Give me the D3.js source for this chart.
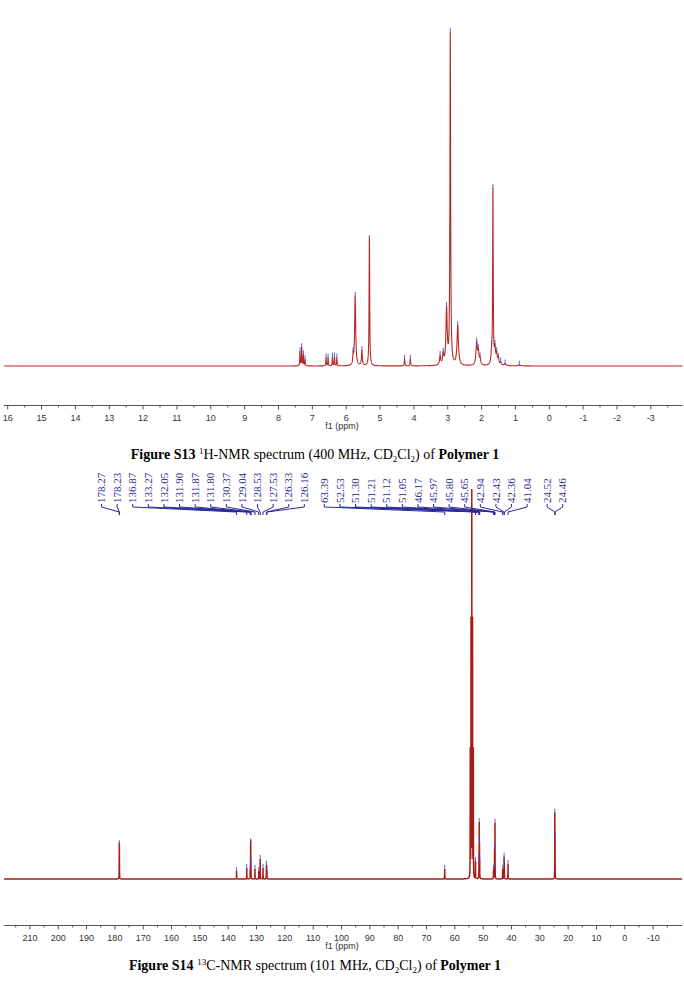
<!DOCTYPE html>
<html>
<head>
<meta charset="utf-8">
<script src="https://cdnjs.cloudflare.com/ajax/libs/d3/7.8.5/d3.min.js"></script>
<style>
body { margin: 0; background: #fff; }
svg { display: block; }
.axis text { font-family: "Liberation Sans", Arial, sans-serif; font-size: 9px; fill: #333; }
.axis path, .axis line { stroke: #555; }
.unit { font-family: "Liberation Sans", Arial, sans-serif; font-size: 9px; fill: #333; }
.caption { font-family: "Liberation Serif", "Times New Roman", serif; font-size: 14px; fill: #000; }
.clabel { font-family: "Liberation Serif", "Times New Roman", serif; font-size: 11px; fill: #2a2a96; }
</style>
</head>
<body>
<script>
// 1H spectrum peaks: shift (ppm), height, half width (ppm)
var hPpm = [7.35, 7.30, 7.25, 7.20, 6.58, 6.52, 6.39, 6.33, 6.26, 5.78, 5.72, 5.52, 5.30,
            4.26, 4.09, 3.21, 3.12, 3.02, 2.91, 2.69, 2.13, 2.08, 2.03,
            1.69, 1.65, 1.59, 1.54, 1.49, 1.42, 1.29, 0.87];
var hInt = [14, 18, 11, 6, 8, 8, 9, 9, 8, 9, 69, 15, 129,
            7, 7, 9, 10, 55, 328, 39, 22, 12, 6,
            10, 172, 15, 10, 6, 3, 2, 1];
var hHw  = [0.008, 0.008, 0.008, 0.008, 0.008, 0.008, 0.008, 0.008, 0.008, 0.012, 0.018, 0.015, 0.01,
            0.01, 0.01, 0.02, 0.02, 0.022, 0.012, 0.025, 0.025, 0.02, 0.02,
            0.02, 0.01, 0.02, 0.02, 0.02, 0.02, 0.03, 0.04];
var hSolvent = [5.30];

// 13C spectrum peaks: shift (ppm), height
var cPpm = [178.27, 178.23, 136.87, 133.27, 132.05, 131.90, 131.87, 131.80, 130.37, 129.04,
            128.53, 127.53, 126.33, 126.16, 63.39,
            54.38, 54.11, 53.84, 53.57, 53.30,
            52.53, 51.30, 51.21, 51.12, 51.05, 46.17, 45.97, 45.80, 45.65,
            42.94, 42.43, 42.36, 41.04, 24.52, 24.46];
var cInt = [26, 24, 8, 11, 8, 24, 22, 12, 10, 8,
            20, 11, 14, 9, 10,
            127, 255, 383, 255, 127,
            17, 15, 52, 30, 10, 9, 9, 28, 55,
            10, 20, 14, 15, 60, 32];
var cSolvent = [54.38, 54.11, 53.84, 53.57, 53.30];

// picked peak labels of the 13C spectrum, in label groups
var cLabelGroups = [
  [178.27, 178.23, 136.87, 133.27, 132.05, 131.90, 131.87, 131.80, 130.37, 129.04, 128.53, 127.53, 126.33, 126.16],
  [63.39, 52.53, 51.30, 51.21, 51.12, 51.05, 46.17, 45.97, 45.80, 45.65, 42.94, 42.43, 42.36, 41.04],
  [24.52, 24.46]
];

// axis ticks
var hTicks = [16, 15, 14, 13, 12, 11, 10, 9, 8, 7, 6, 5, 4, 3, 2, 1, 0, -1, -2, -3];
var cTicks = [210, 200, 190, 180, 170, 160, 150, 140, 130, 120, 110, 100, 90, 80, 70, 60, 50, 40, 30, 20, 10, 0, -10];

var width = 684, height = 992;

var svg = d3.select("body").append("svg")
    .attr("width", width)
    .attr("height", height);

// sum of lorentzian lines
function intensity(p, ppm, inten, hw) {
    var s = 0;
    for (var i = 0; i < ppm.length; i++) {
        var d = (p - ppm[i]) / hw[i];
        s += inten[i] / (1 + d * d);
    }
    return s;
}

function trace(ppm, inten, hw, lo, hi, step) {
    var xs = d3.range(lo, hi, step).concat(ppm);
    xs.sort(d3.ascending);
    return xs.map(function (p) { return [p, intensity(p, ppm, inten, hw)]; });
}

function drawAxis(x, ticks, minorStep, y0) {
    var minor = [];
    ticks.forEach(function (t) { minor.push(t + minorStep); });
    minor.push(ticks[ticks.length - 1] - minorStep);

    svg.append("line")
        .attr("x1", x.range()[0]).attr("x2", x.range()[1])
        .attr("y1", y0 + 0.5).attr("y2", y0 + 0.5)
        .attr("stroke", "#555");

    var g = svg.append("g")
        .attr("class", "axis")
        .attr("transform", "translate(0," + (y0 + 0.5) + ")")
        .call(d3.axisBottom(x).tickValues(ticks).tickSize(4).tickSizeOuter(0).tickPadding(5)
            .tickFormat(function (d) { return String(d); }));
    g.select(".domain").remove();

    var gm = svg.append("g")
        .attr("class", "axis")
        .attr("transform", "translate(0," + (y0 + 0.5) + ")")
        .call(d3.axisBottom(x).tickValues(minor).tickSize(2).tickSizeOuter(0).tickFormat(""));
    gm.select(".domain").remove();

    svg.append("text")
        .attr("class", "unit")
        .attr("x", width / 2)
        .attr("y", y0 + 24)
        .attr("text-anchor", "middle")
        .text("f1 (ppm)");
}

function drawMarks(x, y, ppm, inten, hw, skip) {
    ppm.forEach(function (p) {
        if (skip.indexOf(p) >= 0) return;
        var top = y(intensity(p, ppm, inten, hw));
        svg.append("line")
            .attr("x1", x(p)).attr("x2", x(p))
            .attr("y1", top - 4).attr("y2", top + 1)
            .attr("stroke", "#4a4ab8")
            .attr("stroke-width", 1)
            .attr("opacity", 0.85);
    });
}

function caption(yb, nucleus, rest) {
    var t = svg.append("text")
        .attr("class", "caption")
        .attr("x", 315)
        .attr("y", yb)
        .attr("text-anchor", "middle");
    t.append("tspan").attr("font-weight", "bold").text("Figure " + rest.fig + " ");
    t.append("tspan").attr("font-size", "9px").attr("dy", -5).text(nucleus);
    t.append("tspan").attr("dy", 5).text(rest.nuc + "-NMR spectrum (" + rest.freq + " MHz, CD");
    t.append("tspan").attr("font-size", "9px").attr("dy", 3).text("2");
    t.append("tspan").attr("dy", -3).text("Cl");
    t.append("tspan").attr("font-size", "9px").attr("dy", 3).text("2");
    t.append("tspan").attr("dy", -3).text(") of ");
    t.append("tspan").attr("font-weight", "bold").text("Polymer 1");
}

// ---------- 1H spectrum ----------
var x1 = d3.scaleLinear().domain([16.1, -3.95]).range([3.8, 682.5]);
var y1 = d3.scaleLinear().domain([0, 328]).range([366, 35]);

var line1 = d3.line()
    .x(function (d) { return x1(d[0]); })
    .y(function (d) { return y1(d[1]); });

svg.append("path")
    .attr("d", line1(trace(hPpm, hInt, hHw, -3.95, 16.1, 0.002)))
    .attr("fill", "none")
    .attr("stroke", "#b32a24")
    .attr("stroke-width", 1.1);

drawMarks(x1, y1, hPpm, hInt, hHw, hSolvent);
drawAxis(x1, hTicks, 0.5, 405);
caption(459, "1", {fig: "S13", nuc: "H", freq: "400"});

// ---------- 13C spectrum ----------
var x2 = d3.scaleLinear().domain([219, -20.4]).range([3.9, 682.1]);
var y2 = d3.scaleLinear().domain([0, 383]).range([879, 496]);
var cHw = cPpm.map(function () { return 0.03; });

var line2 = d3.line()
    .x(function (d) { return x2(d[0]); })
    .y(function (d) { return y2(d[1]); });

svg.append("path")
    .attr("d", line2(trace(cPpm, cInt, cHw, -20.4, 219, 0.01)))
    .attr("fill", "none")
    .attr("stroke", "#a81c18")
    .attr("stroke-width", 1.5);

drawMarks(x2, y2, cPpm, cInt, cHw, cSolvent);

// label layout: each group centred on its peaks, pushed left of the group to its right
var labelStep = 15.6, groupGap = 20, labelBottom = 503;
var limit = Infinity;
var placed = [];
for (var gi = cLabelGroups.length - 1; gi >= 0; gi--) {
    var grp = cLabelGroups[gi];
    var centre = d3.mean(grp, function (p) { return x2(p); });
    var start = centre - (grp.length - 1) / 2 * labelStep;
    var end = start + (grp.length - 1) * labelStep;
    if (end > limit) { start -= end - limit; }
    grp.forEach(function (p, i) { placed.push({ppm: p, lx: start + i * labelStep}); });
    limit = start - groupGap;
}

var lab = svg.append("g").selectAll("g")
    .data(placed)
    .enter().append("g");

lab.append("path")
    .attr("d", function (d) {
        var px = x2(d.ppm);
        return "M" + d.lx + "," + (labelBottom + 1) + "V" + (labelBottom + 4) +
            "L" + px + "," + (labelBottom + 9) + "V" + (labelBottom + 12);
    })
    .attr("fill", "none")
    .attr("stroke", "#2a2a96")
    .attr("stroke-width", 1);

lab.append("text")
    .attr("class", "clabel")
    .attr("transform", function (d) { return "translate(" + d.lx + "," + labelBottom + ") rotate(-90)"; })
    .attr("dy", "0.33em")
    .text(function (d) { return d.ppm.toFixed(2); });

drawAxis(x2, cTicks, 5, 925);
caption(970, "13", {fig: "S14", nuc: "C", freq: "101"});
</script>
</body>
</html>
